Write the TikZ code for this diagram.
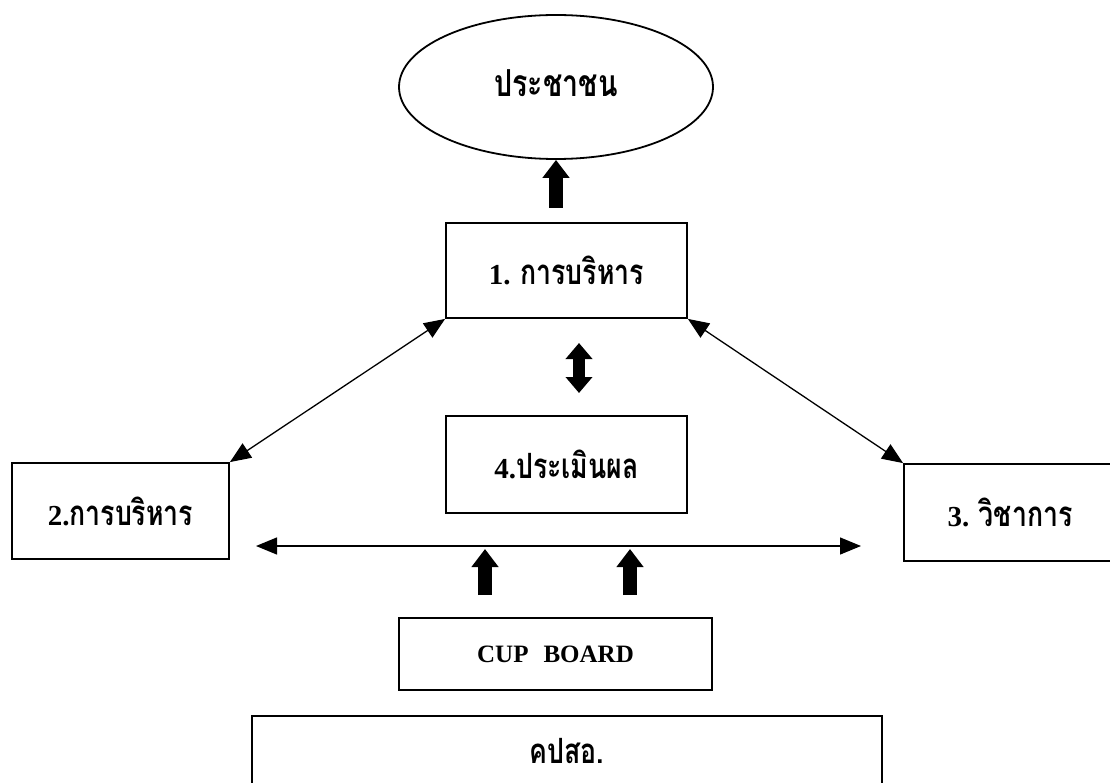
\documentclass[tikz,border=0pt]{standalone}
\usepackage{fontspec}
\setmainfont{Liberation Serif}
\newfontfamily\thai[Script=Thai]{Loma}
\newcommand\thx[1]{\scalebox{0.92}[1.2]{\thai #1}}
\usetikzlibrary{arrows.meta,shapes.geometric}
\begin{document}
\begin{tikzpicture}[x=1pt,y=-1pt,
  box/.style={draw,line width=1.8pt,rectangle,inner sep=0pt,font=\bfseries\fontsize{29}{32}\selectfont},
  thinarrow/.style={line width=1.3pt,{Triangle[length=21pt,width=17pt]}-{Triangle[length=21pt,width=17pt]}},
  fatarrow/.style={line width=14pt,-{Triangle[length=18pt,width=26pt]}},
  fatdouble/.style={line width=12pt,{Triangle[length=16pt,width=26pt]}-{Triangle[length=16pt,width=26pt]}}]
\useasboundingbox (0,0) rectangle (1110,783);
\node[ellipse,draw,line width=1.8pt,minimum width=314pt,minimum height=144pt,inner sep=0pt,
      font=\bfseries\fontsize{31}{34}\selectfont] (pp) at (556,87) {\raisebox{8pt}{\thx{ประชาชน}}};
\node[box,minimum width=241pt,minimum height=95pt] (b1) at (566.5,270.5) {1. \thx{การบริหาร}};
\node[box,minimum width=241pt,minimum height=97pt] (b4) at (566.5,464.5) {4.\thx{ประเมินผล}};
\node[box,minimum width=217pt,minimum height=96pt] (b2) at (120.5,511) {2.\thx{การบริหาร}};
\node[box,minimum width=212pt,minimum height=97pt] (b3) at (1010,512.5) {3. \thx{วิชาการ}};
\node[box,minimum width=313pt,minimum height=72pt,font=\bfseries\fontsize{25}{28}\selectfont] (cb) at (555.5,654) {CUP\hspace{0.6em}BOARD};
\node[box,minimum width=630pt,minimum height=84pt] (kp) at (567,758) {\raisebox{14pt}{\thx{คปสอ.}}};
\coordinate (a0) at (556,208);
\draw[fatarrow] (a0) -- (pp.south);
\coordinate (v1) at (579,343);
\coordinate (v2) at (579,393);
\draw[fatdouble] (v1) -- (v2);
\draw[thinarrow] (b1.south west) -- (b2.north east);
\draw[thinarrow] (b1.south east) -- (b3.north west);
\coordinate (h1) at (256,546);
\coordinate (h2) at (861,546);
\draw[thinarrow] (h1) -- (h2);
\coordinate (u1a) at (485,595);
\coordinate (u1b) at (485,549);
\coordinate (u2a) at (630,595);
\coordinate (u2b) at (630,549);
\draw[fatarrow] (u1a) -- (u1b);
\draw[fatarrow] (u2a) -- (u2b);
\end{tikzpicture}
\end{document}
